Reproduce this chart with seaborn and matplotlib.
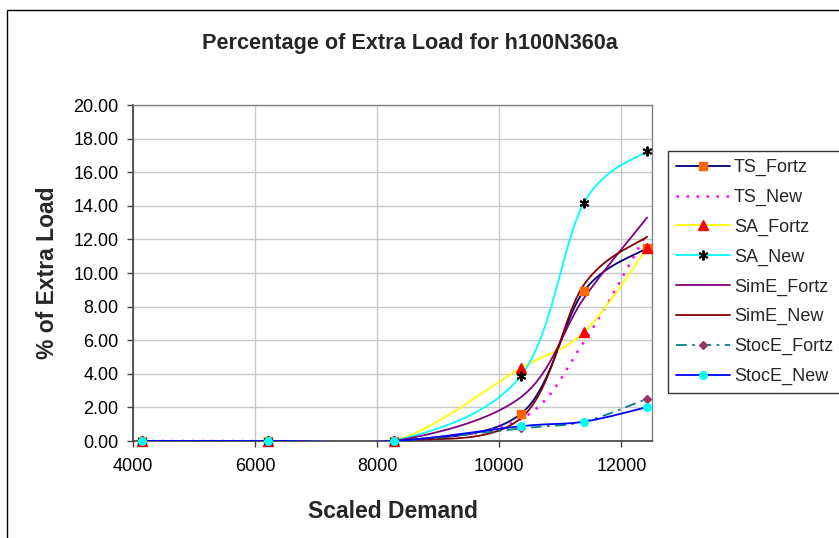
import numpy as np
import pandas as pd
import matplotlib
matplotlib.use("Agg")
import matplotlib.pyplot as plt
from matplotlib.lines import Line2D
from matplotlib.patches import Rectangle
import seaborn as sns

# ---- data -------------------------------------------------------------
demand = [4140, 6210, 8280, 10350, 11385, 12420]

ts_fortz = [0.00, 0.00, 0.00, 1.61, 8.93, 11.48]
ts_new = [0.00, 0.00, 0.00, 1.30, 5.90, 12.40]
sa_fortz = [0.00, 0.00, 0.00, 4.33, 6.47, 11.48]
sa_new = [0.00, 0.00, 0.00, 3.87, 14.17, 17.27]
sime_fortz = [0.00, 0.00, 0.00, 2.60, 8.50, 13.30]
sime_new = [0.00, 0.00, 0.00, 1.35, 9.30, 12.16]
stoce_fortz = [0.00, 0.00, 0.00, 0.75, 1.15, 2.52]
stoce_new = [0.00, 0.00, 0.00, 0.88, 1.15, 2.02]

series_names = ["TS_Fortz", "TS_New", "SA_Fortz", "SA_New",
                "SimE_Fortz", "SimE_New", "StocE_Fortz", "StocE_New"]
series_values = [ts_fortz, ts_new, sa_fortz, sa_new,
                 sime_fortz, sime_new, stoce_fortz, stoce_new]

y_ticks = np.arange(0, 20.01, 2)
x_ticks = [4000, 6000, 8000, 10000, 12000]

# ---- styles -----------------------------------------------------------
styles = {
    "TS_Fortz":    dict(color="#000080", ls="-",  marker="s", mfc="#FF6600", mec="#FF6600", ms=5.5),
    "TS_New":      dict(color="#FF00FF", ls=(0, (1, 3)), marker=None, lw=1.8),
    "SA_Fortz":    dict(color="#FFFF00", ls="-",  marker="^", mfc="#FF0000", mec="#FF0000", ms=6.5),
    "SA_New":      dict(color="#00FFFF", ls="-",  marker=(6, 2, 0), mfc="#000000", mec="#000000", ms=7, mew=1.4),
    "SimE_Fortz":  dict(color="#800080", ls="-",  marker=None),
    "SimE_New":    dict(color="#800000", ls="-",  marker=None),
    "StocE_Fortz": dict(color="#008080", ls=(0, (6, 3, 1.5, 3)), marker="D", mfc="#993366", mec="#993366", ms=4.5),
    "StocE_New":   dict(color="#0000FF", ls="-",  marker="o", mfc="#00FFFF", mec="#00FFFF", ms=5.5),
}


def smooth_curve(xs, ys, n=40):
    """Piecewise cubic Bezier through the points (spreadsheet-style smoothing)."""
    pts = np.column_stack([xs, ys]).astype(float)
    out = []
    for i in range(len(pts) - 1):
        p0 = pts[i - 1] if i > 0 else pts[i]
        p1 = pts[i]
        p2 = pts[i + 1]
        p3 = pts[i + 2] if i + 2 < len(pts) else pts[i + 1]
        c1 = p1 + (p2 - p0) / 6.0
        c2 = p2 - (p3 - p1) / 6.0
        t = np.linspace(0, 1, n)[:, None]
        seg = ((1 - t) ** 3) * p1 + 3 * ((1 - t) ** 2) * t * c1 \
            + 3 * (1 - t) * t ** 2 * c2 + t ** 3 * p2
        out.append(seg if i == 0 else seg[1:])
    arr = np.vstack(out)
    return arr[:, 0], arr[:, 1]


# ---- figure -----------------------------------------------------------
sns.set_theme(style="white")
plt.rcParams["font.family"] = ["Liberation Sans", "DejaVu Sans"]

W, H = 839, 538
fig = plt.figure(figsize=(W / 100, H / 100), dpi=100)
fig.patch.set_facecolor("white")

left, right, top, bottom = 133, 652, 105, 441
ax = fig.add_axes([left / W, 1 - bottom / H, (right - left) / W, (bottom - top) / H])
ax.set_facecolor("white")

for name, vals in zip(series_names, series_values):
    st = styles[name]
    sx, sy = smooth_curve(demand, vals)
    curve = pd.DataFrame({"x": sx, "y": sy})
    sns.lineplot(data=curve, x="x", y="y", ax=ax, sort=False, estimator=None,
                 color=st["color"], linewidth=st.get("lw", 1.3), zorder=3)
    ax.lines[-1].set_linestyle(st["ls"])
    if st["marker"] is not None:
        ax.plot(demand, vals, linestyle="none", marker=st["marker"],
                markerfacecolor=st["mfc"], markeredgecolor=st["mec"],
                markersize=st["ms"], markeredgewidth=st.get("mew", 1.0),
                zorder=4, clip_on=False)

ax.set_xlim(4000, 12500)
ax.set_ylim(0, 20)
ax.set_xticks(x_ticks)
ax.set_yticks(y_ticks)
ax.set_yticklabels([f"{v:.2f}" for v in y_ticks])
ax.grid(True, color="#C8C8C8", linewidth=1.0)
ax.set_axisbelow(True)

for side in ["top", "right", "bottom"]:
    ax.spines[side].set_color("#808080")
    ax.spines[side].set_linewidth(1.0)
ax.spines["left"].set_color("#404040")
ax.spines["left"].set_linewidth(1.2)
ax.spines["bottom"].set_color("#404040")
ax.spines["bottom"].set_linewidth(1.2)

ax.tick_params(axis="both", which="major", direction="out", length=4.5,
               width=1.0, color="#404040", labelsize=13, labelcolor="black",
               bottom=True, left=True)
ax.tick_params(axis="x", pad=8)
ax.tick_params(axis="y", pad=6)

ax.set_xlabel("Scaled Demand", fontsize=16.5, fontweight="bold", labelpad=18)
ax.set_ylabel("% of Extra Load", fontsize=16.5, fontweight="bold", labelpad=10)

fig.text(410 / W, 1 - 44 / H, "Percentage of Extra Load for h100N360a",
         ha="center", va="center", fontsize=15.6, fontweight="bold")

# chart-area border
fig.patches.append(Rectangle((7 / W, -0.1), 1.2, (H - 10) / H + 0.1,
                             transform=fig.transFigure, fill=False,
                             edgecolor="black", linewidth=1.0, zorder=0))

# legend
handles = []
for name in series_names:
    st = styles[name]
    handles.append(Line2D([0], [0], color=st["color"], linestyle=st["ls"],
                          linewidth=st.get("lw", 1.3),
                          marker=st["marker"] if st["marker"] is not None else None,
                          markerfacecolor=st.get("mfc"), markeredgecolor=st.get("mec"),
                          markersize=st.get("ms", 5), markeredgewidth=st.get("mew", 1.0)))
leg = fig.legend(handles, series_names, loc="upper left",
                 bbox_to_anchor=(668 / W, 1 - 151 / H), bbox_transform=fig.transFigure,
                 fontsize=13, frameon=True, fancybox=False, numpoints=1,
                 handlelength=3.0, handletextpad=0.2, labelspacing=0.7,
                 borderpad=0.45, borderaxespad=0.0)
leg.get_frame().set_edgecolor("#000000")
leg.get_frame().set_linewidth(1.0)

fig.savefig("out.png", dpi=100, facecolor="white")
